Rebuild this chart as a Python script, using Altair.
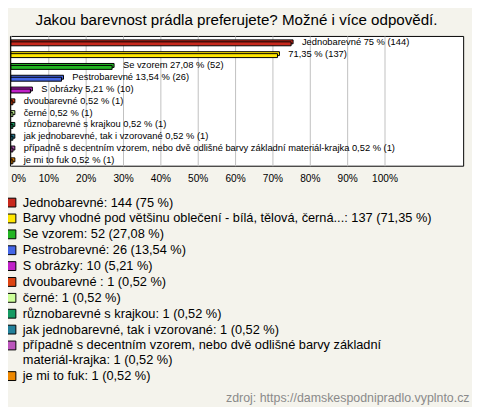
import altair as alt
import pandas as pd

categories = [
    "Jednobarevné",
    "Barvy vhodné pod většinu oblečení - bílá, tělová, černá...",
    "Se vzorem",
    "Pestrobarevné",
    "S obrázky",
    "dvoubarevné ",
    "černé",
    "různobarevné s krajkou",
    "jak jednobarevné, tak i vzorované",
    "případně s decentním vzorem, nebo dvě odlišné barvy základní materiál-krajka",
    "je mi to fuk",
]
counts = [144, 137, 52, 26, 10, 1, 1, 1, 1, 1, 1]
percents = [75, 71.35, 27.08, 13.54, 5.21, 0.52, 0.52, 0.52, 0.52, 0.52, 0.52]
colors = ["#c8281c", "#ffe600", "#22b422", "#4466e6", "#c020c8", "#dd4412",
          "#ccff99", "#159a62", "#22809a", "#bb55bb", "#ee8800"]
axis_ticks = [0, 10, 20, 30, 40, 50, 60, 70, 80, 90, 100]
title_text = "Jakou barevnost prádla preferujete? Možné i více odpovědí."
source_text = "zdroj: https://damskespodnipradlo.vyplnto.cz"


def fmt_pct(p):
    return f"{p:g}".replace(".", ",")


bar_labels = [f"{c} {fmt_pct(p)} % ({n})" for c, p, n in zip(categories, percents, counts)]
bar_labels[1] = f"{fmt_pct(percents[1])} % ({counts[1]})"
legend_labels = [f"{c}: {n} ({fmt_pct(p)} %)" for c, p, n in zip(categories, percents, counts)]
legend_labels[9] = legend_labels[9].replace("základní ", "základní\n")

df = pd.DataFrame({
    "cat": categories,
    "pct": percents,
    "bar_label": bar_labels,
    "legend": legend_labels,
})

FONT = "Liberation Sans"

x_enc = alt.X(
    "pct:Q",
    scale=alt.Scale(domain=[-0.263, 121.05], nice=False, zero=False),
    axis=alt.Axis(
        values=axis_ticks,
        labelExpr="datum.value + '%'",
        grid=True,
        gridColor="#c0c0c0",
        ticks=False,
        domain=False,
        labelFontSize=10.3,
        labelFont=FONT,
        labelColor="#000000",
        labelPadding=8,
        labelFlush=2,
        title=source_text,
        titleX=467,
        titleAlign="right",
        titleBaseline="middle",
        titleY=236,
        titleColor="#8a8a8a",
        titleFont=FONT,
        titleFontSize=12.6,
        titleFontWeight="normal",
    ),
)
y_enc = alt.Y("cat:N", sort=categories, axis=None,
              scale=alt.Scale(paddingInner=0, paddingOuter=0))
color_enc = alt.Color(
    "legend:N",
    scale=alt.Scale(domain=legend_labels, range=colors),
    legend=alt.Legend(
        orient="none",
        legendX=-5,
        legendY=163,
        title=None,
        symbolType="square",
        symbolSize=81,
        symbolStrokeColor="#000000",
        symbolStrokeWidth=1,
        symbolOpacity=1,
        labelFontSize=13,
        labelFont=FONT,
        labelColor="#000000",
        labelLimit=1000,
        labelOffset=5,
        rowPadding=2.15,
        labelExpr="split(datum.label, '\\n')",
    ),
)

base = alt.Chart(df)
back = base.mark_bar(height=4, xOffset=2, yOffset=0, stroke="#000000", strokeWidth=1).encode(
    x=x_enc, x2=alt.datum(0), y=y_enc, color=color_enc
)
front = base.mark_bar(height=4, xOffset=0, yOffset=2, stroke="#000000", strokeWidth=1).encode(
    x=x_enc, x2=alt.datum(0), y=y_enc, color=color_enc
)
labels = base.mark_text(align="left", baseline="middle", dx=11, fontSize=9.5, font=FONT,
                        color="#000000").encode(x=x_enc, y=y_enc, text="bar_label:N")

chart = (
    alt.layer(back, front, labels)
    .properties(
        width=461,
        height=132,
        title=alt.TitleParams(title_text, fontSize=15.4, font=FONT, fontWeight="normal",
                              anchor="middle", offset=8, color="#000000"),
        autosize=alt.AutoSizeParams(type="none"),
        padding={"left": 2, "top": 25, "right": 9, "bottom": 242},
        background="#f4f3ec",
    )
    .configure_view(fill="#ffffff", stroke="#000000", strokeWidth=1)
)

chart.save("out.html", embed_options={"renderer": "svg", "actions": False})
